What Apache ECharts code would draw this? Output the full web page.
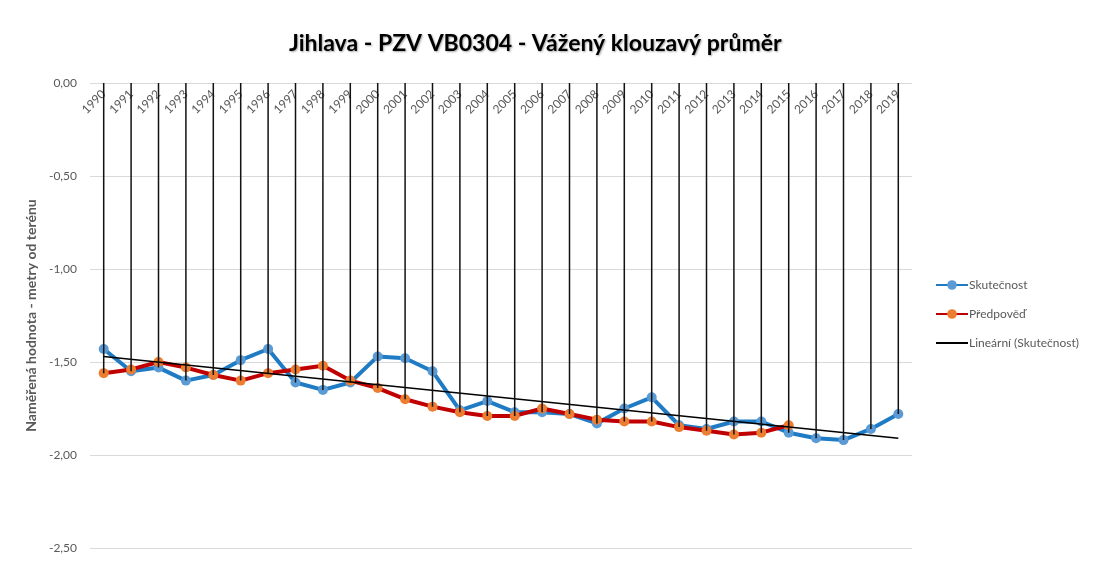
<!DOCTYPE html>
<html>
<head>
<meta charset="utf-8">
<script src="https://cdn.jsdelivr.net/npm/echarts@6/dist/echarts.min.js"></script>
<style>
html, body { margin: 0; padding: 0; background: #fff; }
#main { width: 1100px; height: 564px; }
</style>
</head>
<body>
<div id="main"></div>
<script>
var years = ['1990', '1991', '1992', '1993', '1994', '1995', '1996', '1997', '1998', '1999',
    '2000', '2001', '2002', '2003', '2004', '2005', '2006', '2007', '2008', '2009',
    '2010', '2011', '2012', '2013', '2014', '2015', '2016', '2017', '2018', '2019'];

var skutecnost = [-1.43, -1.55, -1.53, -1.60, -1.57, -1.49, -1.43, -1.61, -1.65, -1.61,
    -1.47, -1.48, -1.55, -1.76, -1.71, -1.77, -1.77, -1.78, -1.83, -1.75,
    -1.69, -1.84, -1.86, -1.82, -1.82, -1.88, -1.91, -1.92, -1.86, -1.78];

var predpoved = [-1.56, -1.54, -1.50, -1.53, -1.57, -1.60, -1.56, -1.54, -1.52, -1.60,
    -1.64, -1.70, -1.74, -1.77, -1.79, -1.79, -1.75, -1.78, -1.81, -1.82,
    -1.82, -1.85, -1.87, -1.89, -1.88, -1.84, null, null, null, null];

// trend line end points
var trendStart = -1.47;
var trendEnd = -1.91;

var trend = years.map(function (y, i) {
    if (i === 0) return trendStart;
    if (i === years.length - 1) return trendEnd;
    return null;
});

// drop lines go from the axis down to the lowest point of the year
var drops = years.map(function (y, i) {
    var v = [skutecnost[i], predpoved[i]].filter(function (x) { return x != null; });
    return Math.min.apply(null, v);
});

var font = 'Lato';

var option = {
    animation: false,
    title: {
        text: 'Jihlava - PZV VB0304 - Vážený klouzavý průměr',
        left: 284,
        top: 27,
        textStyle: {
            fontFamily: font,
            fontSize: 23,
            fontWeight: 'bold',
            color: '#000',
            textShadowColor: 'rgba(0,0,0,0.35)',
            textShadowBlur: 2,
            textShadowOffsetX: 1,
            textShadowOffsetY: 1
        }
    },
    legend: {
        orient: 'vertical',
        left: 930,
        top: 274,
        itemGap: 17,
        itemWidth: 32,
        itemHeight: 12,
        data: [
            'Skutečnost',
            'Předpověď',
            { name: 'Lineární (Skutečnost)', itemStyle: { opacity: 0 } }
        ],
        textStyle: { color: '#595959', fontSize: 12, fontFamily: font, padding: [0, 0, 0, -4] }
    },
    grid: {
        left: 90,
        right: 188,
        top: 83,
        bottom: 16
    },
    xAxis: {
        type: 'category',
        position: 'top',
        data: years,
        axisLine: { show: false },
        axisTick: { show: false },
        axisLabel: {
            inside: true,
            rotate: 45,
            color: '#595959',
            fontSize: 12,
            fontFamily: font,
            margin: 9,
            interval: 0
        }
    },
    yAxis: {
        type: 'value',
        min: -2.5,
        max: 0,
        interval: 0.5,
        name: 'Naměřená hodnota - metry od terénu',
        nameLocation: 'middle',
        nameGap: 43,
        nameTextStyle: {
            color: '#595959',
            fontSize: 14,
            fontWeight: 'bold',
            fontFamily: font
        },
        axisLabel: {
            color: '#595959',
            fontSize: 12,
            fontFamily: font,
            margin: 13,
            formatter: function (v) { return v.toFixed(2).replace('.', ','); }
        },
        splitLine: { lineStyle: { color: '#d9d9d9', width: 1 } }
    },
    series: [
        {
            name: 'Skutečnost',
            type: 'line',
            data: skutecnost,
            symbol: 'circle',
            symbolSize: 10,
            lineStyle: { color: '#1f7bc4', width: 4 },
            itemStyle: { color: '#5b9bd5' },
            z: 2
        },
        {
            name: 'Předpověď',
            type: 'line',
            data: predpoved,
            symbol: 'circle',
            symbolSize: 10,
            lineStyle: { color: '#c00000', width: 4 },
            itemStyle: { color: '#ed7d31' },
            z: 3
        },
        {
            name: 'Lineární (Skutečnost)',
            type: 'line',
            data: trend,
            connectNulls: true,
            symbol: 'none',
            lineStyle: { color: '#000', width: 1.5 },
            itemStyle: { color: '#000' },
            z: 4
        },
        {
            name: 'drop',
            type: 'bar',
            data: drops,
            barWidth: 1.5,
            itemStyle: { color: '#111' },
            z: 5
        }
    ]
};

var myChart = echarts.init(document.getElementById('main'));
myChart.setOption(option);
</script>
</body>
</html>
